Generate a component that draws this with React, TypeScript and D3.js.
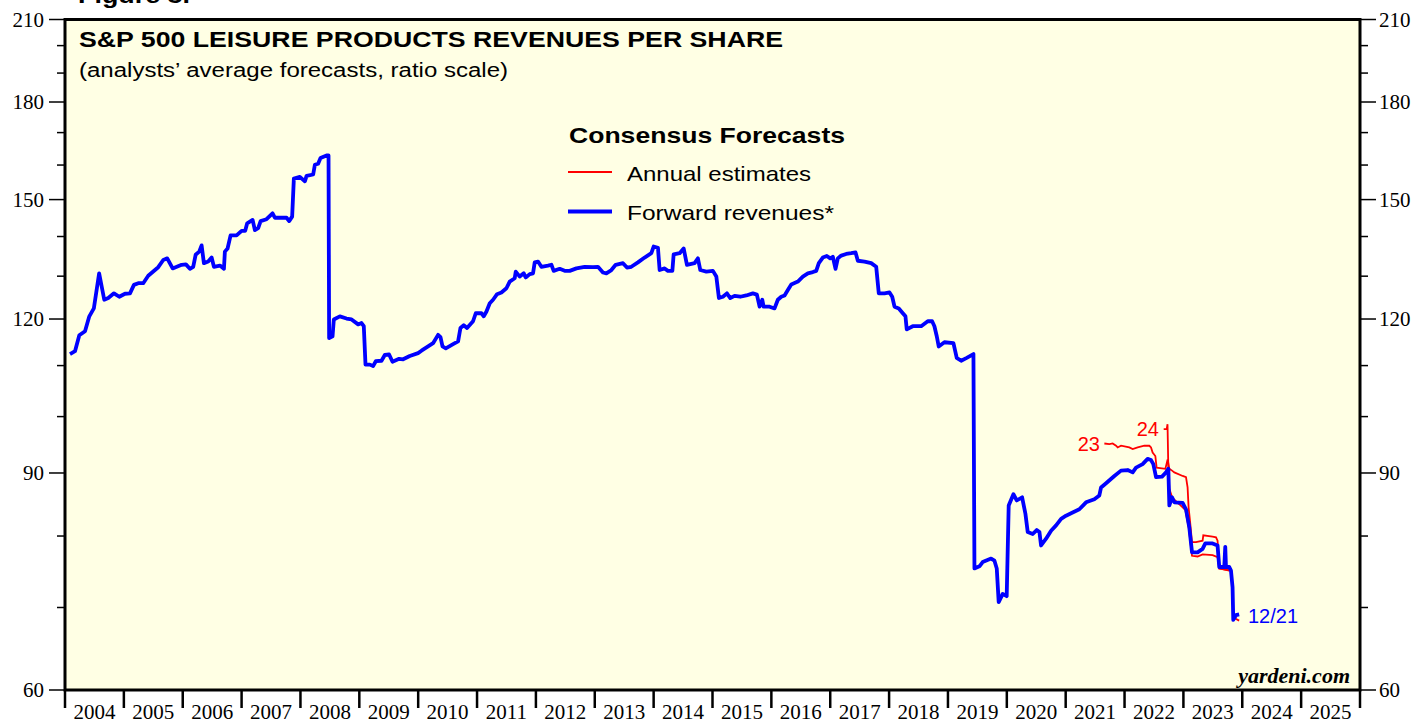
import React from "react";
import * as d3 from "d3";

// ---- DATA ----
const yearTicks = [2004,2005,2006,2007,2008,2009,2010,2011,2012,2013,2014,2015,2016,2017,2018,2019,2020,2021,2022,2023,2024,2025];
const yMajorTicks = [60, 90, 120, 150, 180, 210];
const yMinorTicks = [70, 80, 100, 110, 130, 140, 160, 170, 190, 200];

// Forward revenues (decimal year, value)
const forwardRevenues: [number, number][] = [
  [2004.085,112.4],[2004.17,113.0],[2004.243,116.4],[2004.34,117.3],[2004.413,120.6],[2004.49,122.4],[2004.58,130.7],[2004.667,124.4],
  [2004.735,124.8],[2004.832,125.9],[2004.922,125.1],[2005.019,125.8],[2005.104,125.9],[2005.171,127.9],[2005.244,128.3],[2005.329,128.3],
  [2005.414,130.1],[2005.584,132.2],[2005.669,134.0],[2005.737,134.4],[2005.829,131.9],[2005.981,132.8],[2006.054,132.9],[2006.122,131.8],
  [2006.178,132.3],[2006.219,135.3],[2006.28,136.1],[2006.321,137.7],[2006.36,133.2],[2006.433,133.6],[2006.491,134.6],[2006.53,132.3],
  [2006.632,132.6],[2006.7,131.8],[2006.716,136.1],[2006.762,136.9],[2006.813,140.3],[2006.915,140.3],[2007.0,141.5],[2007.061,141.5],
  [2007.095,143.5],[2007.187,144.4],[2007.226,141.7],[2007.282,142.2],[2007.323,144.1],[2007.424,144.6],[2007.526,146.2],[2007.565,145.0],
  [2007.764,145.0],[2007.808,144.1],[2007.859,145.3],[2007.888,156.0],[2007.99,156.5],[2008.075,155.2],[2008.104,156.8],[2008.216,157.2],
  [2008.245,160.1],[2008.3,160.4],[2008.341,162.1],[2008.443,162.9],[2008.477,162.9],[2008.487,115.8],[2008.545,116.2],[2008.567,119.9],
  [2008.669,120.6],[2008.783,120.1],[2008.868,119.9],[2008.98,118.8],[2009.037,119.1],[2009.076,118.4],[2009.105,110.2],[2009.178,110.2],
  [2009.234,109.9],[2009.28,110.9],[2009.377,111.0],[2009.433,112.2],[2009.506,112.3],[2009.564,110.8],[2009.676,111.4],[2009.744,111.3],
  [2009.857,112.0],[2009.998,112.6],[2010.056,113.1],[2010.168,114.0],[2010.253,114.7],[2010.338,116.5],[2010.379,116.0],[2010.413,114.0],
  [2010.469,113.6],[2010.593,114.5],[2010.678,115.1],[2010.718,118.0],[2010.774,118.6],[2010.83,118.0],[2010.932,119.5],[2010.978,121.3],
  [2011.075,121.3],[2011.114,120.6],[2011.16,121.7],[2011.216,123.6],[2011.272,124.4],[2011.34,125.7],[2011.414,126.1],[2011.499,127.1],
  [2011.555,128.7],[2011.64,129.5],[2011.657,131.1],[2011.725,129.9],[2011.793,130.7],[2011.827,129.7],[2011.895,130.5],[2011.951,130.7],
  [2011.98,133.4],[2012.036,133.6],[2012.093,132.3],[2012.205,132.6],[2012.263,132.8],[2012.302,131.3],[2012.404,131.8],[2012.489,131.3],
  [2012.574,131.3],[2012.688,131.9],[2012.829,132.3],[2012.97,132.2],[2013.054,132.3],[2013.139,130.9],[2013.197,130.7],[2013.282,131.5],
  [2013.355,132.8],[2013.479,133.2],[2013.547,132.1],[2013.621,132.3],[2013.733,133.4],[2013.847,134.6],[2013.961,135.7],[2014.0,137.4],
  [2014.073,137.1],[2014.102,131.5],[2014.187,131.9],[2014.243,131.3],[2014.318,131.3],[2014.34,135.4],[2014.442,135.7],[2014.51,136.9],
  [2014.566,132.8],[2014.696,133.2],[2014.752,134.4],[2014.793,131.5],[2014.895,131.1],[2015.007,131.3],[2015.065,129.9],[2015.109,124.8],
  [2015.177,125.1],[2015.245,125.9],[2015.302,124.8],[2015.375,125.3],[2015.472,125.1],[2015.574,125.4],[2015.686,125.9],[2015.754,125.6],
  [2015.8,122.8],[2015.846,124.4],[2015.868,122.8],[2015.97,122.8],[2016.054,122.4],[2016.11,124.4],[2016.168,125.1],[2016.224,125.4],
  [2016.28,126.7],[2016.338,128.0],[2016.45,128.7],[2016.535,129.9],[2016.62,130.7],[2016.705,131.0],[2016.762,131.3],[2016.806,133.2],
  [2016.874,134.6],[2016.942,135.0],[2017.0,134.4],[2017.044,134.8],[2017.09,131.8],[2017.129,134.4],[2017.187,135.1],[2017.271,135.5],
  [2017.356,135.7],[2017.43,135.9],[2017.469,133.8],[2017.582,133.6],[2017.696,133.2],[2017.781,132.3],[2017.825,125.9],[2017.922,125.9],
  [2018.007,126.1],[2018.053,125.1],[2018.092,122.8],[2018.165,122.4],[2018.233,121.3],[2018.278,120.6],[2018.3,117.7],[2018.402,118.4],
  [2018.545,118.4],[2018.657,119.5],[2018.731,119.5],[2018.77,118.4],[2018.81,116.2],[2018.843,114.0],[2018.94,114.9],[2019.093,114.7],
  [2019.149,111.6],[2019.224,111.0],[2019.319,111.6],[2019.433,112.4],[2019.45,75.3],[2019.535,75.6],[2019.59,76.2],[2019.733,76.7],
  [2019.79,76.4],[2019.829,75.3],[2019.862,70.7],[2019.93,71.8],[2019.998,71.5],[2020.032,84.7],[2020.112,86.5],[2020.168,85.5],
  [2020.26,86.0],[2020.316,83.4],[2020.355,80.6],[2020.44,80.3],[2020.508,80.9],[2020.554,80.6],[2020.582,78.6],[2020.667,79.6],
  [2020.752,80.8],[2020.837,81.6],[2020.922,82.6],[2021.006,83.1],[2021.118,83.6],[2021.232,84.1],[2021.346,85.2],[2021.487,85.7],
  [2021.572,86.3],[2021.601,87.6],[2021.686,88.3],[2021.827,89.5],[2021.94,90.4],[2022.053,90.5],[2022.138,90.1],[2022.195,90.9],
  [2022.307,91.5],[2022.392,92.4],[2022.45,92.2],[2022.489,91.5],[2022.535,89.3],[2022.637,89.4],[2022.705,90.1],[2022.744,90.7],
  [2022.761,84.7],[2022.807,86.0],[2022.846,85.2],[2022.987,85.1],[2023.044,84.1],[2023.1,81.3],[2023.146,77.6],[2023.241,77.6],
  [2023.326,78.1],[2023.372,78.9],[2023.496,78.9],[2023.58,78.6],[2023.609,75.5],[2023.694,75.5],[2023.711,78.4],[2023.723,75.5],
  [2023.779,75.5],[2023.808,75.0],[2023.835,72.7],[2023.847,68.4],[2023.893,69.0],[2023.947,69.1]
];

// Annual estimates for 2023
const annual2023: [number, number][] = [
  [2021.657,95.1],[2021.742,95.0],[2021.798,95.1],[2021.856,94.7],[2021.883,94.4],[2021.94,94.7],[2022.081,94.4],[2022.138,94.1],
  [2022.223,94.4],[2022.336,94.7],[2022.421,94.7],[2022.45,94.4],[2022.477,93.5],[2022.523,92.9],[2022.545,90.9],[2022.693,90.7],
  [2022.732,92.3],[2022.761,90.7],[2022.807,90.4],[2022.846,90.1],[2022.987,89.5],[2023.044,89.3],[2023.071,87.6],[2023.088,84.4],
  [2023.112,82.3],[2023.146,79.1],[2023.214,79.1],[2023.326,79.3],[2023.338,80.1],[2023.496,79.9],[2023.554,79.8],[2023.58,79.3],
  [2023.609,75.3],[2023.723,75.1],[2023.779,75.0]
];

// Annual estimates for 2024
const annual2024: [number, number][] = [
  [2022.665,97.7],[2022.716,97.7],[2022.73,98.6],[2022.744,90.7],[2022.761,87.4],[2022.812,85.9],[2022.93,84.9],[2023.032,84.0],
  [2023.091,81.2],[2023.146,77.1],[2023.241,77.0],[2023.326,77.3],[2023.496,77.2],[2023.58,76.9],[2023.609,75.3],[2023.808,75.0],
  [2023.835,72.3],[2023.847,68.7],[2023.947,68.3]
];

const W = 1416, H = 719;
const L = 65, R = 1360, T = 19.5, B = 690;

export default function App() {
  const x = d3.scaleLinear().domain([2004, 2026]).range([L, R]);
  const y = d3.scaleLog().domain([60, 210]).range([B, T]);
  const line = d3.line<[number, number]>().x(d => x(d[0])).y(d => y(d[1]));
  const serif = "'Liberation Serif', 'Times New Roman', serif";
  const sans = "'Liberation Sans', Arial, sans-serif";
  const bg = "#ffffe4";
  const st = { lengthAdjust: "spacingAndGlyphs" as const };

  return (
    <svg width={W} height={H} style={{ position: "absolute", left: 0, top: 0 }} xmlns="http://www.w3.org/2000/svg">
      <rect x={0} y={0} width={W} height={H} fill="#ffffff" />
      <text x={78} y={3} fontFamily={sans} fontWeight="bold" fontSize={22} textLength={112} {...st}>Figure 3.</text>
      <rect x={L} y={T} width={R - L} height={B - T} fill={bg} />

      {/* y ticks */}
      {yMajorTicks.map(v => (
        <g key={"ym" + v}>
          <line x1={L - 16} x2={L} y1={y(v)} y2={y(v)} stroke="#000" strokeWidth={1.5} />
          <line x1={R} x2={R + 16} y1={y(v)} y2={y(v)} stroke="#000" strokeWidth={1.5} />
          <text x={44} y={y(v)} dy="0.35em" textAnchor="end" fontFamily={serif} fontSize={21}>{v}</text>
          <text x={1379} y={y(v)} dy="0.35em" textAnchor="start" fontFamily={serif} fontSize={21}>{v}</text>
        </g>
      ))}
      {yMinorTicks.map(v => (
        <g key={"yn" + v}>
          <line x1={L - 8} x2={L} y1={y(v)} y2={y(v)} stroke="#000" strokeWidth={1.5} />
          <line x1={R} x2={R + 8} y1={y(v)} y2={y(v)} stroke="#000" strokeWidth={1.5} />
        </g>
      ))}

      {/* x ticks */}
      {[...yearTicks, 2026].map(t => (
        <line key={"xt" + t} x1={x(t)} x2={x(t)} y1={B} y2={B + 18} stroke="#000" strokeWidth={2.5} />
      ))}
      {yearTicks.map(t => (
        <text key={"xl" + t} x={x(t + 0.5)} y={719} textAnchor="middle" fontFamily={serif} fontSize={21}>{t}</text>
      ))}

      {/* series */}
      <path d={line(annual2023) || ""} fill="none" stroke="#ff0000" strokeWidth={1.8} />
      <path d={line(annual2024) || ""} fill="none" stroke="#ff0000" strokeWidth={1.8} />
      <path d={line(forwardRevenues) || ""} fill="none" stroke="#0000ff" strokeWidth={3.8} strokeLinejoin="round" />

      {/* frame */}
      <rect x={L} y={T} width={R - L} height={B - T} fill="none" stroke="#000" strokeWidth={3} />

      {/* titles */}
      <text x={79} y={47} fontFamily={sans} fontWeight="bold" fontSize={22} textLength={704} {...st}>S&amp;P 500 LEISURE PRODUCTS REVENUES PER SHARE</text>
      <text x={79} y={77} fontFamily={sans} fontSize={20} textLength={429} {...st}>(analysts’ average forecasts, ratio scale)</text>

      {/* legend */}
      <text x={569} y={143} fontFamily={sans} fontWeight="bold" fontSize={22} textLength={276} {...st}>Consensus Forecasts</text>
      <line x1={568} x2={612} y1={172} y2={172} stroke="#ff0000" strokeWidth={1.8} />
      <text x={627} y={181} fontFamily={sans} fontSize={21} textLength={184} {...st}>Annual estimates</text>
      <line x1={568} x2={612} y1={211.5} y2={211.5} stroke="#0000ff" strokeWidth={3.8} />
      <text x={627} y={220} fontFamily={sans} fontSize={21} textLength={207} {...st}>Forward revenues*</text>

      {/* annotations */}
      <text x={1100} y={451} textAnchor="end" fontFamily={sans} fontSize={20} fill="#ff0000">23</text>
      <text x={1159} y={436} textAnchor="end" fontFamily={sans} fontSize={20} fill="#ff0000">24</text>
      <text x={1248} y={623} fontFamily={sans} fontSize={20} fill="#0000ff">12/21</text>
      <text x={1350} y={683} textAnchor="end" fontFamily={serif} fontWeight="bold" fontStyle="italic" fontSize={22}>yardeni.com</text>
    </svg>
  );
}
